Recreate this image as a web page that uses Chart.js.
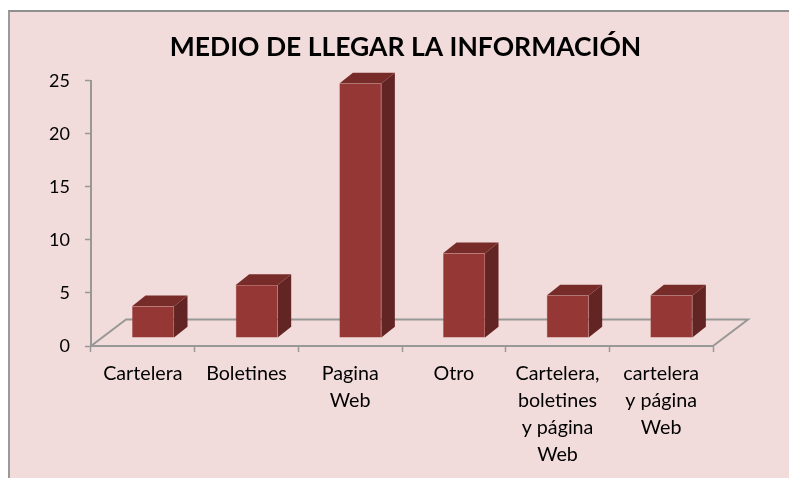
<!DOCTYPE html>
<html><head><meta charset="utf-8">
<script src="https://cdn.jsdelivr.net/npm/chart.js@4/dist/chart.umd.min.js"></script>
<style>
html,body{margin:0;padding:0;background:#fff;overflow:hidden}
#panel{position:absolute;left:8px;top:10px;width:781px;height:468px;box-sizing:border-box;background:#f2dcdb;border-left:2px solid #9a9a9a;border-top:2px solid #8f8f8f}
canvas{position:absolute;left:0;top:0}
</style></head><body>
<div id="panel"></div>
<canvas id="c" width="789" height="478"></canvas>
<script>
const chartTitle = 'MEDIO DE LLEGAR LA INFORMACIÓN';
const categories = [['Cartelera'],['Boletines'],['Pagina','Web'],['Otro'],['Cartelera,','boletines','y página','Web'],['cartelera','y página','Web']];
const values = [3,5,24,8,4,4];
const yTicks = [0,5,10,15,20,25];

const FRONT='#953735', TOP='#772c2a', SIDE='#632523', EDGE='#a84f4d', AXIS='#989896';
const FLOOR_DX=35, FLOOR_DY=26.5, BAR_SHIFT_X=10.2, BAR_SHIFT_Y=-8, DEPTH_X=13.5, DEPTH_Y=10.7;

const threeD = {
  id:'threeD',
  beforeDatasetsDraw(chart){
    const a=chart.chartArea, c=chart.ctx;
    c.save();
    c.strokeStyle=AXIS; c.lineWidth=2;
    c.beginPath();
    c.moveTo(a.left,a.bottom);
    c.lineTo(a.left+FLOOR_DX,a.bottom-FLOOR_DY);
    c.lineTo(a.right+FLOOR_DX,a.bottom-FLOOR_DY);
    c.lineTo(a.right,a.bottom);
    c.stroke();
    c.restore();
  },
  beforeDatasetDraw(chart,args){
    const c=chart.ctx;
    c.save();
    c.translate(BAR_SHIFT_X,BAR_SHIFT_Y);
    args.meta.data.forEach(b=>{
      const l=b.x-b.width/2, r=b.x+b.width/2, t=b.y, bt=b.base;
      c.fillStyle=SIDE;
      c.beginPath();
      c.moveTo(r,t); c.lineTo(r+DEPTH_X,t-DEPTH_Y); c.lineTo(r+DEPTH_X,bt-DEPTH_Y); c.lineTo(r,bt);
      c.closePath(); c.fill();
      c.fillStyle=TOP;
      c.beginPath();
      c.moveTo(l,t); c.lineTo(l+DEPTH_X,t-DEPTH_Y); c.lineTo(r+DEPTH_X,t-DEPTH_Y); c.lineTo(r,t);
      c.closePath(); c.fill();
    });
  },
  afterDatasetDraw(chart){ chart.ctx.restore(); }
};

new Chart(document.getElementById('c'),{
  type:'bar',
  data:{labels:categories,datasets:[{data:values,backgroundColor:FRONT,borderColor:EDGE,borderWidth:0.5,barPercentage:0.405,categoryPercentage:1,clip:false}]},
  plugins:[threeD],
  options:{
    responsive:false,animation:false,
    layout:{padding:{left:22,right:0,top:0,bottom:0}},
    plugins:{
      legend:{display:false},tooltip:{enabled:false},
      title:{display:true,text:chartTitle,color:'#000',font:{family:'Lato',size:26.5,weight:'bold',lineHeight:1.2},padding:{top:32,bottom:17},align:'center',fullSize:true}
    },
    scales:{
      x:{
        afterFit(s){s.height=132;},
        border:{color:AXIS,width:2},
        grid:{display:true,drawOnChartArea:false,drawTicks:true,tickLength:6,tickColor:AXIS,tickWidth:1.5},
        ticks:{color:'#000',font:{family:'Lato',size:19.7,lineHeight:1.37},padding:8,maxRotation:0,autoSkip:false}
      },
      y:{
        min:0,max:25,
        afterFit(s){s.width=69;},
        afterBuildTicks(s){s.ticks=yTicks.map(v=>({value:v}));},
        border:{color:AXIS,width:2},
        grid:{display:true,drawOnChartArea:false,drawTicks:true,tickLength:6,tickColor:AXIS,tickWidth:1.5},
        ticks:{color:'#000',font:{family:'Lato',size:18},padding:15}
      },
      r:{
        position:'right',display:true,
        afterFit(s){s.width=76;},
        border:{display:false},
        grid:{display:false},
        ticks:{display:false}
      }
    }
  }
});
</script>
</body></html>
